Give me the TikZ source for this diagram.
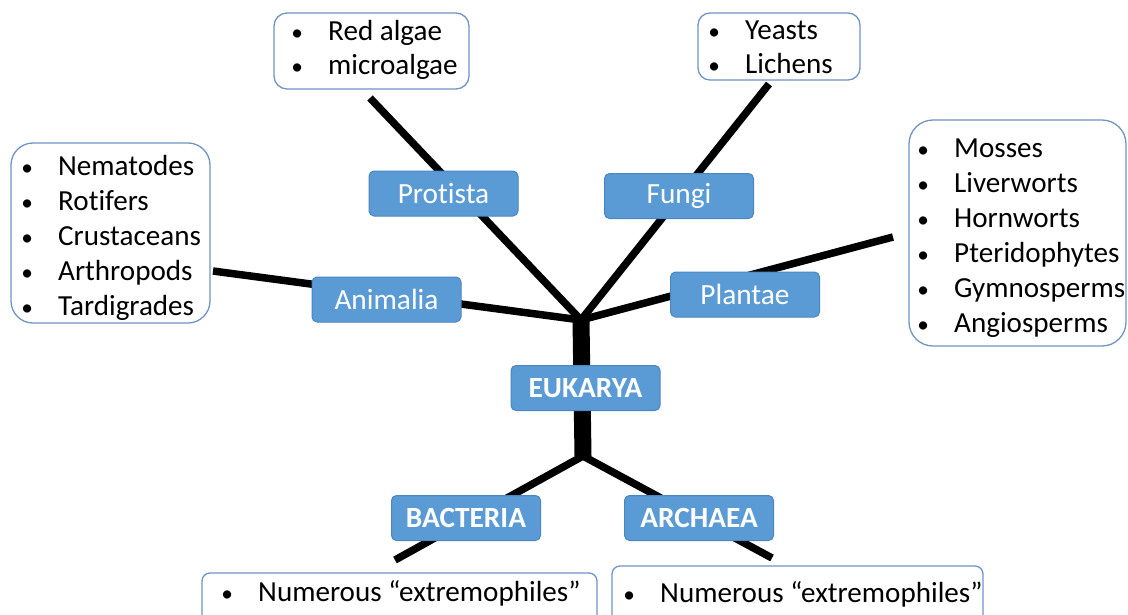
\documentclass[tikz,border=0pt]{standalone}
\usepackage{fontspec}
\setmainfont[Ligatures=NoCommon]{Carlito}
\definecolor{boxblue}{HTML}{5B9BD5}
\definecolor{boxedge}{HTML}{4A86C0}
\definecolor{listedge}{HTML}{7095C5}
\newcommand\itm[1]{\llap{\makebox[0pt][c]{\scalebox{0.8}{•}}\hspace{31pt}}#1}
\begin{document}
\begin{tikzpicture}[x=1pt,y=-1pt,
  taxon/.style={draw=boxedge, line width=1pt, fill=boxblue, rounded corners=5pt, text=white,
    minimum width=149pt, minimum height=45pt, inner sep=0pt, font=\fontsize{29.3}{34}\selectfont},
  listbox/.style={draw=listedge, line width=1.3pt, fill=white, inner sep=0pt},
  item/.style={anchor=base west, inner sep=0pt, font=\fontsize{29.1}{34}\selectfont},
  branch/.style={line width=7.5pt},
]
\fill[white] (0,0) rectangle (1128,614);
\clip (0,0) rectangle (1128,614);

% junctions and free ends
\coordinate (jt) at (581,320);
\coordinate (jb) at (583,456);
\coordinate (pe) at (370,98);
\coordinate (fe) at (769,84);
\coordinate (ae) at (213,271);
\coordinate (ple) at (893,237);
\coordinate (be) at (395,560);
\coordinate (ce) at (772,558);

% branches
\draw[branch] (pe) -- (jt);
\draw[branch] (fe) -- (jt);
\draw[branch] (ae) -- (jt);
\draw[branch] (ple) -- (jt);
\draw[line width=17pt] (jt) -- (jb);
\draw[branch] (jb) -- (be);
\draw[branch] (jb) -- (ce);

% taxon boxes
\node[taxon] (protista) at (443.5,193.5) {Protista};
\node[taxon] (fungi) at (679,196) {Fungi};
\node[taxon] (animalia) at (386.5,299.5) {Animalia};
\node[taxon] (plantae) at (745,294.5) {Plantae};
\node[taxon, font=\fontsize{29.3}{34}\selectfont\bfseries] (eukarya) at (585.5,388) {EUKARYA};
\node[taxon, font=\fontsize{29.3}{34}\selectfont\bfseries] (bacteria) at (466,518) {BACTERIA};
\node[taxon, font=\fontsize{29.3}{34}\selectfont\bfseries] (archaea) at (699,518) {ARCHAEA};

% list boxes
\node[listbox, rounded corners=13pt, minimum width=195pt, minimum height=76pt] (protlist) at (371.5,51) {};
\node[listbox, rounded corners=12pt, minimum width=162pt, minimum height=67pt] (funglist) at (779,46.5) {};
\node[listbox, rounded corners=22pt, minimum width=199pt, minimum height=180pt] (animlist) at (110.5,233) {};
\node[listbox, rounded corners=24pt, minimum width=217pt, minimum height=226pt] (plantlist) at (1017.5,233) {};
\node[listbox, rounded corners=8pt, minimum width=395pt, minimum height=80pt] (bactlist) at (399.5,613) {};
\node[listbox, rounded corners=8pt, minimum width=371pt, minimum height=90pt] (archlist) at (797.5,611) {};

% list items
\node[item] (p1) at (328,40) {\itm{Red algae}};
\node[item] (p2) at (328,74) {\itm{microalgae}};
\node[item] (f1) at (745,39) {\itm{Yeasts}};
\node[item] (f2) at (745,73) {\itm{Lichens}};
\node[item] (a1) at (58,175) {\itm{Nematodes}};
\node[item] (a2) at (58,210) {\itm{Rotifers}};
\node[item] (a3) at (58,245) {\itm{Crustaceans}};
\node[item] (a4) at (58,280) {\itm{Arthropods}};
\node[item] (a5) at (58,315) {\itm{Tardigrades}};
\node[item] (l1) at (954,157) {\itm{Mosses}};
\node[item] (l2) at (954,192) {\itm{Liverworts}};
\node[item] (l3) at (954,227) {\itm{Hornworts}};
\node[item] (l4) at (954,262) {\itm{Pteridophytes}};
\node[item] (l5) at (954,297) {\itm{Gymnosperms}};
\node[item] (l6) at (954,332) {\itm{Angiosperms}};
\node[item] (b1) at (258,601) {\itm{Numerous “extremophiles”}};
\node[item] (c1) at (660,602) {\itm{Numerous “extremophiles”}};
\end{tikzpicture}
\end{document}
